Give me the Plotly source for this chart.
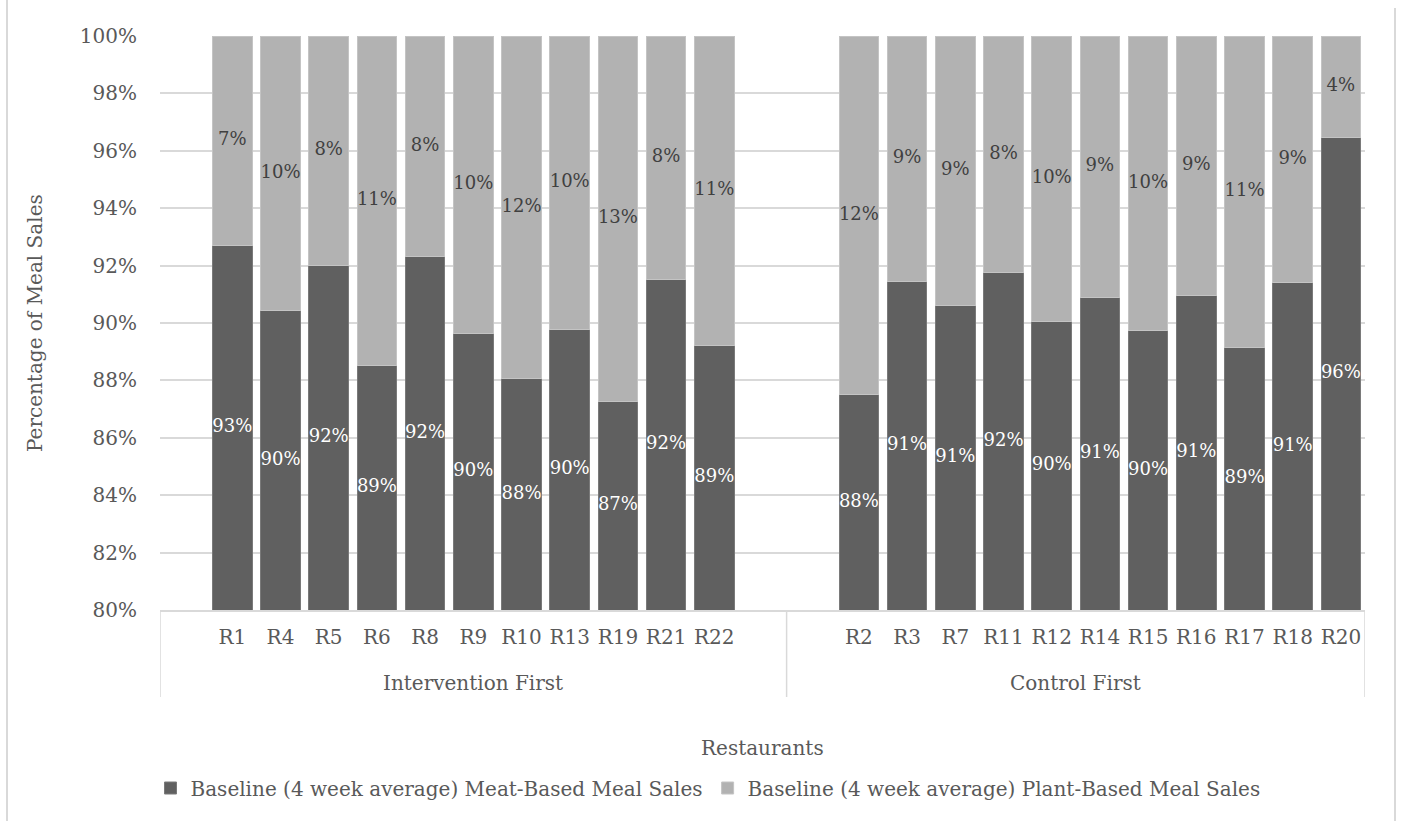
import plotly.graph_objects as go

# Restaurants in each study arm
intervention_first = ["R1", "R4", "R5", "R6", "R8", "R9", "R10", "R13", "R19", "R21", "R22"]
control_first = ["R2", "R3", "R7", "R11", "R12", "R14", "R15", "R16", "R17", "R18", "R20"]

# Baseline (4 week average) shares of meal sales, in percent
meat_intervention = [92.70, 90.45, 92.02, 88.52, 92.30, 89.65, 88.08, 89.76, 87.28, 91.52, 89.23]
plant_intervention = [7.30, 9.55, 7.98, 11.48, 7.70, 10.35, 11.92, 10.24, 12.72, 8.48, 10.77]
meat_control = [87.52, 91.46, 90.62, 91.75, 90.05, 90.90, 89.75, 90.95, 89.15, 91.40, 96.48]
plant_control = [12.48, 8.54, 9.38, 8.25, 9.95, 9.10, 10.25, 9.05, 10.85, 8.60, 3.52]

group_names = ["Intervention First", "Control First"]
y_min, y_max = 80, 100

# Slot positions on the category axis (blank slots separate the two arms)
x_int = list(range(1, 12))
x_ctl = list(range(14, 25))
xs = x_int + x_ctl
labels = intervention_first + control_first
meat = meat_intervention + meat_control
plant = plant_intervention + plant_control

FONT = "DejaVu Serif"
GREY_TXT = "#595959"
MEAT_C = "#606060"
PLANT_C = "#b2b2b2"
GRID_C = "#d9d9d9"

fig = go.Figure()
fig.add_trace(go.Bar(
    x=xs, y=meat, name="Baseline (4 week average) Meat-Based Meal Sales",
    marker=dict(color=MEAT_C, line=dict(color="#7a7a7a", width=1)), width=0.82,
))
fig.add_trace(go.Bar(
    x=xs, y=plant, name="Baseline (4 week average) Plant-Based Meal Sales",
    marker=dict(color=PLANT_C, line=dict(color="#c4c4c4", width=1)), width=0.82,
))

# Data labels centred in the visible part of each segment
fig.add_trace(go.Scatter(
    x=xs, y=[(y_min + m) / 2 for m in meat], mode="text",
    text=[f"{round(m)}%" for m in meat],
    textfont=dict(family=FONT, size=18, color="white"),
    showlegend=False, hoverinfo="skip",
))
fig.add_trace(go.Scatter(
    x=xs, y=[(m + y_max) / 2 for m in meat], mode="text",
    text=[f"{round(p)}%" for p in plant],
    textfont=dict(family=FONT, size=18, color="#404040"),
    showlegend=False, hoverinfo="skip",
))

L, R, T, B = 160, 36, 36, 211
W, H = 1401, 821
pw, ph = W - L - R, H - T - B


def px_x(p):
    return (p - L) / pw


def px_y(p):
    return (H - B - p) / ph


shapes = []
# Category-axis dividers
for xv in [-0.5, 12.5, 24.5]:
    shapes.append(dict(type="line", xref="x", yref="paper", x0=xv, x1=xv,
                       y0=0, y1=px_y(697), line=dict(color=GRID_C, width=1.5)))
# Outer chart frame edges
shapes.append(dict(type="line", xref="paper", yref="paper", x0=px_x(7), x1=px_x(7),
                   y0=px_y(0), y1=px_y(821), line=dict(color=GRID_C, width=2)))
shapes.append(dict(type="line", xref="paper", yref="paper", x0=px_x(1395), x1=px_x(1395),
                   y0=px_y(8), y1=px_y(821), line=dict(color=GRID_C, width=2)))

txt_font = dict(family=FONT, size=20, color=GREY_TXT)
annotations = [
    dict(text=group_names[0], x=6, xref="x", y=px_y(683), yref="paper",
         xanchor="center", yanchor="middle", showarrow=False, font=txt_font),
    dict(text=group_names[1], x=18.5, xref="x", y=px_y(683), yref="paper",
         xanchor="center", yanchor="middle", showarrow=False, font=txt_font),
    dict(text="Restaurants", x=0.5, xref="paper", y=px_y(748), yref="paper",
         xanchor="center", yanchor="middle", showarrow=False, font=txt_font),
    dict(text="Percentage of Meal Sales", x=px_x(35), xref="paper", y=0.5, yref="paper",
         xanchor="center", yanchor="middle", textangle=-90, showarrow=False, font=txt_font),
]

fig.update_layout(
    width=W, height=H,
    margin=dict(l=L, r=R, t=T, b=B, autoexpand=False),
    barmode="stack",
    plot_bgcolor="white", paper_bgcolor="white",
    font=txt_font,
    shapes=shapes, annotations=annotations,
    legend=dict(orientation="h", x=px_x(708), xanchor="center", y=px_y(788), yanchor="middle",
                font=txt_font, itemwidth=30, traceorder="normal"),
    showlegend=True,
)
fig.update_xaxes(
    range=[-0.5, 24.5], tickmode="array", tickvals=xs, ticktext=labels,
    showgrid=False, zeroline=False, showline=True, linecolor=GRID_C, linewidth=1.5,
    ticks="", tickfont=txt_font, ticklabelstandoff=8,
)
fig.update_yaxes(
    range=[y_min, y_max], dtick=2, ticksuffix="%",
    showgrid=True, gridcolor=GRID_C, gridwidth=1.5, zeroline=False, showline=False,
    ticks="", tickfont=txt_font, ticklabelstandoff=22,
)

fig.write_html("out.html")
